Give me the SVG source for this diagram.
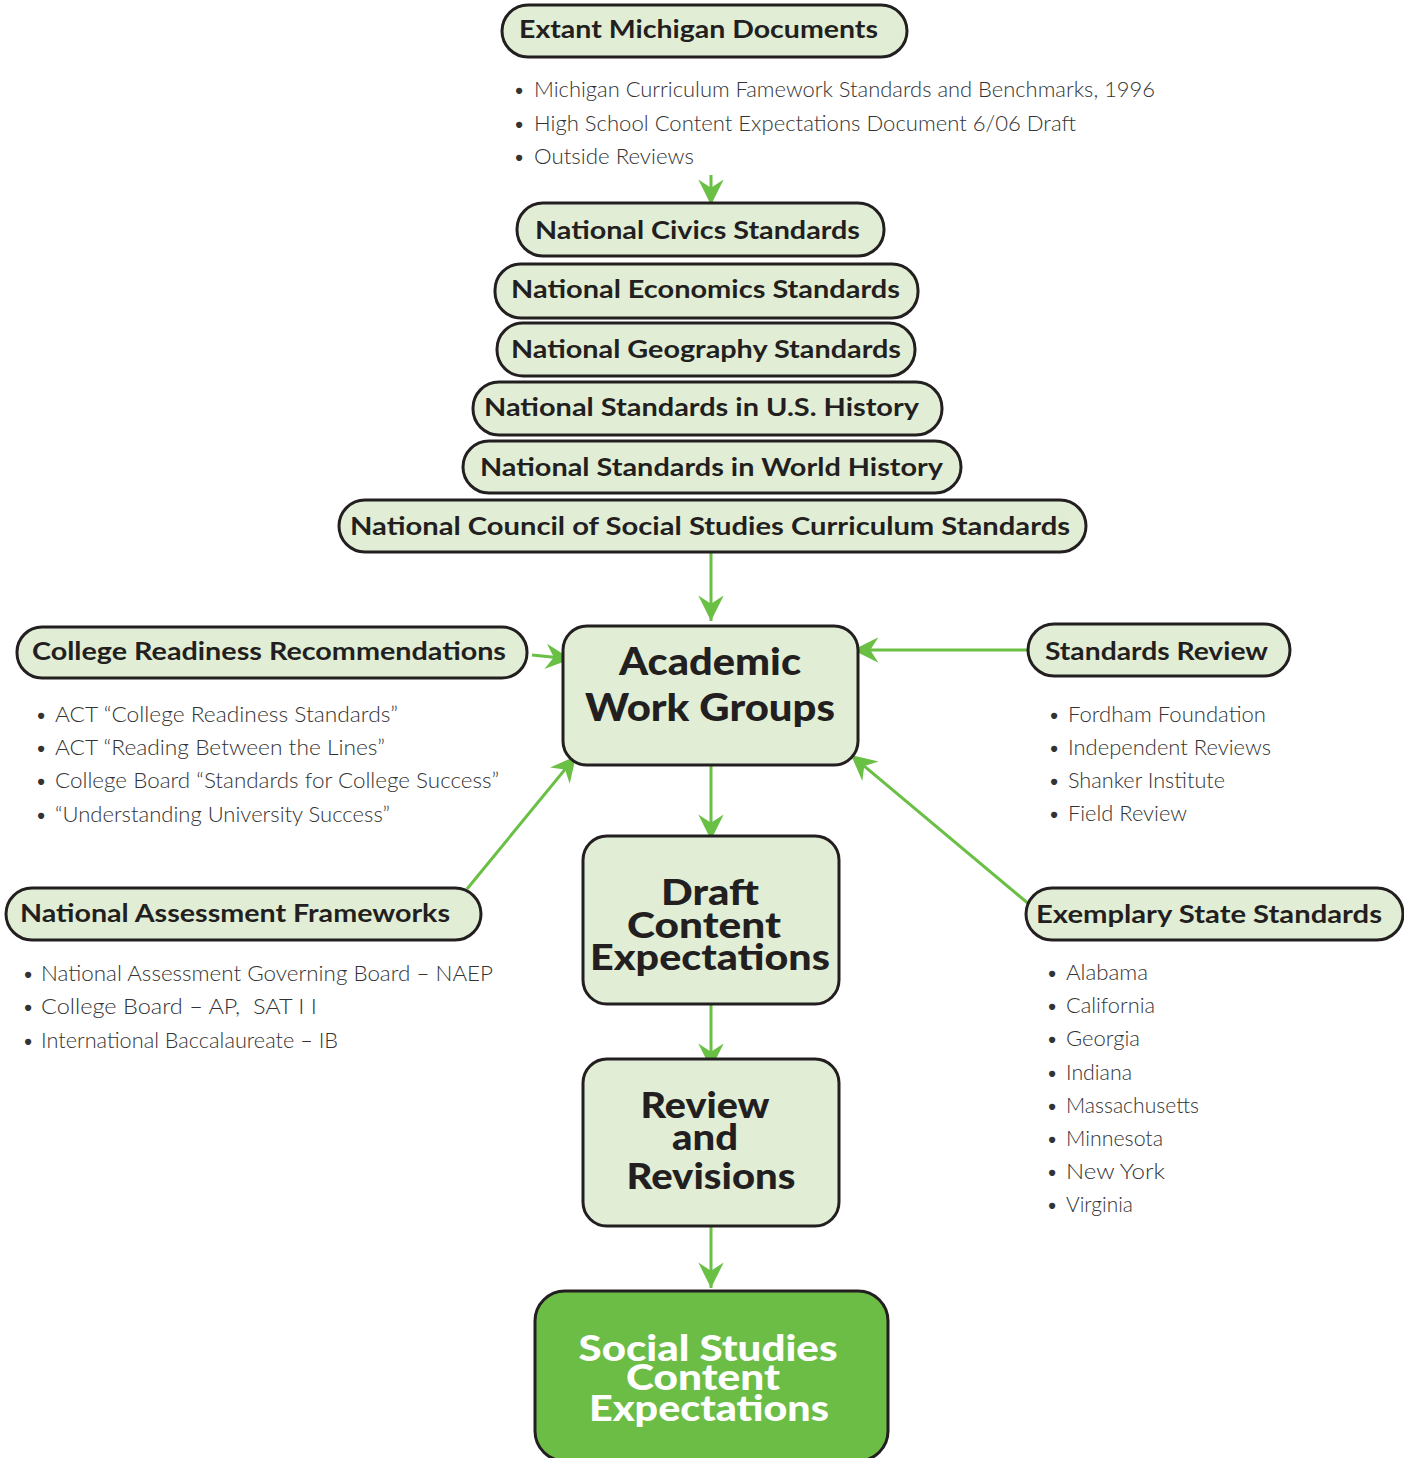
<svg xmlns="http://www.w3.org/2000/svg" width="1404" height="1458" viewBox="0 0 1404 1458">
<style>
.box{fill:#e1eed5;stroke:#231f20;stroke-width:3}
.final{fill:#6cbd45;stroke:#231f20;stroke-width:3}
.lbl{font-family:Lato,"Open Sans","Liberation Sans",sans-serif;font-weight:700;font-size:24px;fill:#231f20}
.big{font-family:Lato,"Open Sans","Liberation Sans",sans-serif;font-weight:900;font-size:38px;fill:#231f20;text-anchor:middle}
.white{fill:#ffffff}
.li{font-family:Lato,"Open Sans","Liberation Sans",sans-serif;font-weight:300;font-size:21px;fill:#333333}
.con{stroke:#6abf45;stroke-width:3;fill:none;marker-end:url(#ah)}
</style>
<defs>
<marker id="ah" markerUnits="userSpaceOnUse" markerWidth="30" markerHeight="30" viewBox="-24 -12 26 24" refX="0" refY="0" orient="auto">
<path d="M0,0 L-22,-11 L-15,0 L-22,11 Z" fill="#6abf45"/>
</marker>
</defs>

<g id="connectors">
<line class="con" x1="711" y1="175" x2="711" y2="205"/>
<line class="con" x1="711" y1="552" x2="711" y2="621"/>
<line class="con" x1="532" y1="655" x2="571" y2="659"/>
<line class="con" x1="1028" y1="650" x2="853" y2="650"/>
<line class="con" x1="467" y1="889" x2="576" y2="756"/>
<line class="con" x1="1030" y1="905" x2="851" y2="755"/>
<line class="con" x1="711" y1="765" x2="711" y2="840"/>
<line class="con" x1="711" y1="1004" x2="711" y2="1069"/>
<line class="con" x1="711" y1="1226" x2="711" y2="1288"/>
</g>

<g id="extant">
<rect class="box" x="502" y="5" width="405" height="52" rx="26"/>
<text class="lbl" x="519" y="38" textLength="359" lengthAdjust="spacingAndGlyphs">Extant Michigan Documents</text>
<g class="li">
<text x="513" y="97">•</text><text x="534" y="97" textLength="621" lengthAdjust="spacingAndGlyphs">Michigan Curriculum Famework Standards and Benchmarks, 1996</text>
<text x="513" y="131">•</text><text x="534" y="131" textLength="542" lengthAdjust="spacingAndGlyphs">High School Content Expectations Document 6/06 Draft</text>
<text x="513" y="164">•</text><text x="534" y="164" textLength="160" lengthAdjust="spacingAndGlyphs">Outside Reviews</text>
</g>
</g>

<g id="civics">
<rect class="box" x="517" y="203" width="367" height="53" rx="26"/>
<text class="lbl" x="535" y="239" textLength="325" lengthAdjust="spacingAndGlyphs">National Civics Standards</text>
</g>
<g id="economics">
<rect class="box" x="495" y="264" width="423" height="54" rx="26"/>
<text class="lbl" x="511" y="298" textLength="389" lengthAdjust="spacingAndGlyphs">National Economics Standards</text>
</g>
<g id="geography">
<rect class="box" x="497" y="323" width="418" height="53" rx="26"/>
<text class="lbl" x="511" y="358" textLength="390" lengthAdjust="spacingAndGlyphs">National Geography Standards</text>
</g>
<g id="ushistory">
<rect class="box" x="473" y="382" width="469" height="53" rx="26"/>
<text class="lbl" x="484" y="416" textLength="435" lengthAdjust="spacingAndGlyphs">National Standards in U.S. History</text>
</g>
<g id="worldhistory">
<rect class="box" x="463" y="441" width="498" height="52" rx="26"/>
<text class="lbl" x="480" y="476" textLength="463" lengthAdjust="spacingAndGlyphs">National Standards in World History</text>
</g>
<g id="ncss">
<rect class="box" x="339" y="500" width="747" height="52" rx="26"/>
<text class="lbl" x="350" y="535" textLength="720" lengthAdjust="spacingAndGlyphs">National Council of Social Studies Curriculum Standards</text>
</g>

<g id="academic">
<rect class="box" x="563" y="626" width="295" height="139" rx="24"/>
<text class="big" x="710" y="675" textLength="182" lengthAdjust="spacingAndGlyphs">Academic</text>
<text class="big" x="710" y="721" textLength="250" lengthAdjust="spacingAndGlyphs">Work Groups</text>
</g>

<g id="college">
<rect class="box" x="17" y="627" width="510" height="51" rx="25"/>
<text class="lbl" x="32" y="660" textLength="474" lengthAdjust="spacingAndGlyphs">College Readiness Recommendations</text>
<g class="li">
<text x="35" y="722">•</text><text x="55" y="722" textLength="343" lengthAdjust="spacingAndGlyphs">ACT “College Readiness Standards”</text>
<text x="35" y="755">•</text><text x="55" y="755" textLength="330" lengthAdjust="spacingAndGlyphs">ACT “Reading Between the Lines”</text>
<text x="35" y="788">•</text><text x="55" y="788" textLength="444" lengthAdjust="spacingAndGlyphs">College Board “Standards for College Success”</text>
<text x="35" y="822">•</text><text x="55" y="822" textLength="335" lengthAdjust="spacingAndGlyphs">“Understanding University Success”</text>
</g>
</g>

<g id="review">
<rect class="box" x="1028" y="624" width="262" height="52" rx="26"/>
<text class="lbl" x="1045" y="660" textLength="223" lengthAdjust="spacingAndGlyphs">Standards Review</text>
<g class="li">
<text x="1048" y="722">•</text><text x="1068" y="722" textLength="198" lengthAdjust="spacingAndGlyphs">Fordham Foundation</text>
<text x="1048" y="755">•</text><text x="1068" y="755" textLength="203" lengthAdjust="spacingAndGlyphs">Independent Reviews</text>
<text x="1048" y="788">•</text><text x="1068" y="788" textLength="157" lengthAdjust="spacingAndGlyphs">Shanker Institute</text>
<text x="1048" y="821">•</text><text x="1068" y="821" textLength="119" lengthAdjust="spacingAndGlyphs">Field Review</text>
</g>
</g>

<g id="assessment">
<rect class="box" x="6" y="888" width="475" height="52" rx="26"/>
<text class="lbl" x="20" y="922" textLength="430" lengthAdjust="spacingAndGlyphs">National Assessment Frameworks</text>
<g class="li">
<text x="22" y="981">•</text><text x="41" y="981" textLength="452" lengthAdjust="spacingAndGlyphs">National Assessment Governing Board – NAEP</text>
<text x="22" y="1014">•</text><text x="41" y="1014" textLength="276" lengthAdjust="spacingAndGlyphs">College Board – AP,&#160; SAT I I</text>
<text x="22" y="1048">•</text><text x="41" y="1048" textLength="297" lengthAdjust="spacingAndGlyphs">International Baccalaureate – IB</text>
</g>
</g>

<g id="exemplary">
<rect class="box" x="1026" y="888" width="377" height="52" rx="26"/>
<text class="lbl" x="1036" y="923" textLength="346" lengthAdjust="spacingAndGlyphs">Exemplary State Standards</text>
<g class="li">
<text x="1046" y="980">•</text><text x="1066" y="980" textLength="82" lengthAdjust="spacingAndGlyphs">Alabama</text>
<text x="1046" y="1013">•</text><text x="1066" y="1013" textLength="89" lengthAdjust="spacingAndGlyphs">California</text>
<text x="1046" y="1046">•</text><text x="1066" y="1046" textLength="74" lengthAdjust="spacingAndGlyphs">Georgia</text>
<text x="1046" y="1080">•</text><text x="1066" y="1080" textLength="66" lengthAdjust="spacingAndGlyphs">Indiana</text>
<text x="1046" y="1113">•</text><text x="1066" y="1113" textLength="133" lengthAdjust="spacingAndGlyphs">Massachusetts</text>
<text x="1046" y="1146">•</text><text x="1066" y="1146" textLength="97" lengthAdjust="spacingAndGlyphs">Minnesota</text>
<text x="1046" y="1179">•</text><text x="1066" y="1179" textLength="99" lengthAdjust="spacingAndGlyphs">New York</text>
<text x="1046" y="1212">•</text><text x="1066" y="1212" textLength="67" lengthAdjust="spacingAndGlyphs">Virginia</text>
</g>
</g>

<g id="draft">
<rect class="box" x="583" y="836" width="256" height="168" rx="24"/>
<text class="big" x="710" y="905" style="font-size:36px" textLength="98" lengthAdjust="spacingAndGlyphs">Draft</text>
<text class="big" x="704" y="938" style="font-size:36px" textLength="154" lengthAdjust="spacingAndGlyphs">Content</text>
<text class="big" x="710" y="970" style="font-size:36px" textLength="240" lengthAdjust="spacingAndGlyphs">Expectations</text>
</g>

<g id="revisions">
<rect class="box" x="583" y="1059" width="256" height="167" rx="24"/>
<text class="big" x="705" y="1118" style="font-size:36px" textLength="129" lengthAdjust="spacingAndGlyphs">Review</text>
<text class="big" x="705" y="1150" style="font-size:36px" textLength="66" lengthAdjust="spacingAndGlyphs">and</text>
<text class="big" x="711" y="1189" style="font-size:36px" textLength="169" lengthAdjust="spacingAndGlyphs">Revisions</text>
</g>

<g id="final">
<rect class="final" x="535" y="1291" width="353" height="170" rx="30"/>
<text class="big white" x="708" y="1361" style="font-size:36px" textLength="259" lengthAdjust="spacingAndGlyphs">Social Studies</text>
<text class="big white" x="703" y="1390" style="font-size:36px" textLength="154" lengthAdjust="spacingAndGlyphs">Content</text>
<text class="big white" x="709" y="1421" style="font-size:36px" textLength="240" lengthAdjust="spacingAndGlyphs">Expectations</text>
</g>
</svg>
